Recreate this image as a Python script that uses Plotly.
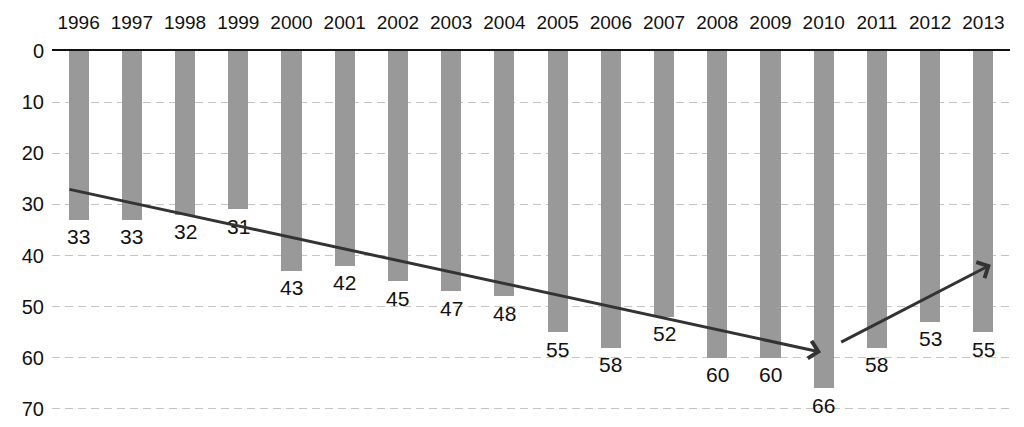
import plotly.graph_objects as go

years = ["1996", "1997", "1998", "1999", "2000", "2001", "2002", "2003", "2004",
         "2005", "2006", "2007", "2008", "2009", "2010", "2011", "2012", "2013"]
values = [33, 33, 32, 31, 43, 42, 45, 47, 48, 55, 58, 52, 60, 60, 66, 58, 53, 55]
y_ticks = [0, 10, 20, 30, 40, 50, 60, 70]

# trend arrows: (x index, value) start -> end
trend1_start = (-0.2, 27.0)
trend1_end = (13.95, 58.9)
trend2_start = (14.3, 57.1)
trend2_end = (17.14, 41.8)

FONT = "Liberation Sans, Arial, sans-serif"
x_idx = list(range(len(years)))

fig = go.Figure()
fig.add_trace(go.Bar(
    x=x_idx, y=values,
    marker=dict(color="#999999", line=dict(width=0)),
    width=0.376,
))

for xi, v in zip(x_idx, values):
    fig.add_annotation(
        x=xi, y=v, xref="x", yref="y", text=str(v), showarrow=False,
        yanchor="middle", yshift=-17,
        font=dict(family=FONT, size=21, color="#111111"),
    )

for s, e in [(trend1_start, trend1_end), (trend2_start, trend2_end)]:
    fig.add_annotation(
        x=e[0], y=e[1], ax=s[0], ay=s[1],
        xref="x", yref="y", axref="x", ayref="y",
        text="", showarrow=True,
        arrowhead=4, arrowsize=1.15, arrowwidth=3, arrowcolor="#333333",
        standoff=0, startstandoff=0,
    )

fig.update_layout(
    width=1024, height=427,
    margin=dict(l=52, r=14, t=51, b=13),
    paper_bgcolor="white", plot_bgcolor="white",
    showlegend=False,
    bargap=0,
    font=dict(family=FONT, color="#111111"),
)
fig.update_xaxes(
    side="top",
    tickmode="array",
    tickvals=x_idx, ticktext=years,
    range=[-0.5, len(years) - 0.5],
    showline=True, linecolor="#111111", linewidth=2,
    showgrid=False, zeroline=False, ticks="",
    tickfont=dict(family=FONT, size=19, color="#111111"),
    ticklabelstandoff=12,
    automargin=False,
)
fig.update_yaxes(
    range=[71, 0],
    tickmode="array", tickvals=y_ticks,
    showgrid=True, gridcolor="#c4c4c4", gridwidth=1, griddash="8px,5px",
    zeroline=False, showline=False, ticks="",
    tickfont=dict(family=FONT, size=20, color="#111111"),
    ticklabelstandoff=7,
    automargin=False,
)

fig.write_html("out.html")
